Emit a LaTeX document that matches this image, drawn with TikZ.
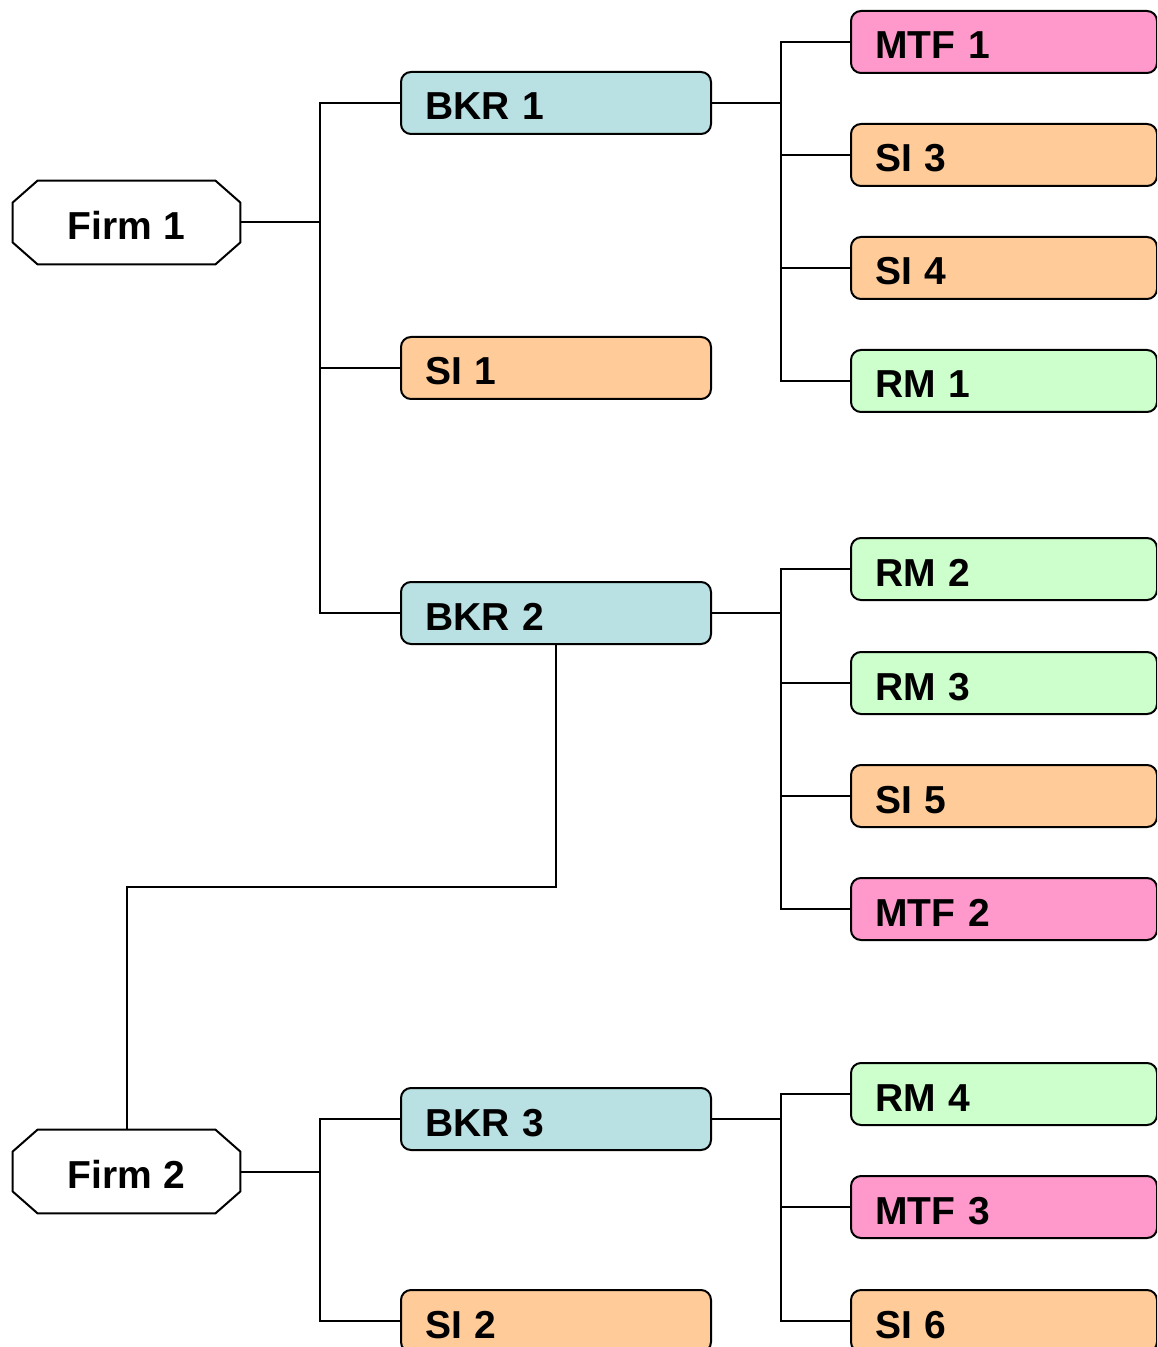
\documentclass[tikz,border=0pt]{standalone}
\usepackage{fontspec}
\setmainfont{Liberation Sans}
\usetikzlibrary{calc}
\definecolor{bkrfill}{HTML}{B9E0E3}
\definecolor{sifill}{HTML}{FFCC99}
\definecolor{mtffill}{HTML}{FF99CC}
\definecolor{rmfill}{HTML}{CCFFCC}
\tikzset{
  lbl/.style={font=\fontsize{19.5pt}{22pt}\selectfont\bfseries, text height=17pt, text depth=0pt},
  firmbox/.style={lbl, rectangle, minimum width=113.5pt, minimum height=41.5pt,
    inner sep=0pt, align=center},
  octline/.style={line width=1pt},
  midbox/.style={lbl, draw, line width=1pt, rounded corners=5pt, rectangle,
    text width=131pt, inner xsep=12pt, inner ysep=0pt, minimum height=31pt, align=left},
  rightbox/.style={midbox, text width=129pt},
  bkr/.style={midbox, fill=bkrfill},
  si/.style={midbox, fill=sifill},
  rsi/.style={rightbox, fill=sifill},
  mtf/.style={rightbox, fill=mtffill},
  rm/.style={rightbox, fill=rmfill},
  link/.style={line width=1pt}
}
% octagonal outline around a named node (corner cuts 25 x 22 units)
\newcommand\octoutline[1]{%
  \draw[octline] ($(#1.north west)+(25,0)$) -- ($(#1.north east)+(-25,0)$)
    -- ($(#1.north east)+(0,22)$) -- ($(#1.south east)+(0,-22)$)
    -- ($(#1.south east)+(-25,0)$) -- ($(#1.south west)+(25,0)$)
    -- ($(#1.south west)+(0,-22)$) -- ($(#1.north west)+(0,22)$) -- cycle;}
\begin{document}
\begin{tikzpicture}[x=0.5pt,y=-0.5pt]
\path[use as bounding box, clip] (0,0) rectangle (1157,1347);

% firms
\node[firmbox] (f1) at (126.5,222.5) {Firm 1};
\node[firmbox] (f2) at (126.5,1171.5) {Firm 2};
\octoutline{f1}
\octoutline{f2}

% brokers and systematic internalisers in the middle column
\node[bkr] (b1) at (556,103) {BKR 1};
\node[si]  (s1) at (556,368) {SI 1};
\node[bkr] (b2) at (556,613) {BKR 2};
\node[bkr] (b3) at (556,1119) {BKR 3};
\node[si]  (s2) at (556,1321) {SI 2};

% venues in the right column
\node[mtf] (m1) at (1004,42)  {MTF 1};
\node[rsi] (s3) at (1004,155) {SI 3};
\node[rsi] (s4) at (1004,268) {SI 4};
\node[rm]  (r1) at (1004,381) {RM 1};
\node[rm]  (r2) at (1004,569) {RM 2};
\node[rm]  (r3) at (1004,683) {RM 3};
\node[rsi] (s5) at (1004,796) {SI 5};
\node[mtf] (m2) at (1004,909) {MTF 2};
\node[rm]  (r4) at (1004,1094) {RM 4};
\node[mtf] (m3) at (1004,1207) {MTF 3};
\node[rsi] (s6) at (1004,1321) {SI 6};

% junction points
\coordinate (j1) at (320,222.5);
\coordinate (j2) at (320,1171.5);
\coordinate (k1) at (781,103);
\coordinate (k2) at (781,613);
\coordinate (k3) at (781,1119);
\coordinate (bend) at (556,887);

% firm 1 tree
\draw[link] (f1.east) -- (j1);
\draw[link] (j1) |- (b1.west);
\draw[link] (j1) |- (s1.west);
\draw[link] (j1) |- (b2.west);

% firm 2 tree
\draw[link] (f2.east) -- (j2);
\draw[link] (j2) |- (b3.west);
\draw[link] (j2) |- (s2.west);

% broker 2 routes to firm 2
\draw[link] (b2.south) -- (bend) -| (f2.north);

% broker 1 venues
\draw[link] (b1.east) -- (k1);
\draw[link] (k1) |- (m1.west);
\draw[link] (k1) |- (s3.west);
\draw[link] (k1) |- (s4.west);
\draw[link] (k1) |- (r1.west);

% broker 2 venues
\draw[link] (b2.east) -- (k2);
\draw[link] (k2) |- (r2.west);
\draw[link] (k2) |- (r3.west);
\draw[link] (k2) |- (s5.west);
\draw[link] (k2) |- (m2.west);

% broker 3 venues
\draw[link] (b3.east) -- (k3);
\draw[link] (k3) |- (r4.west);
\draw[link] (k3) |- (m3.west);
\draw[link] (k3) |- (s6.west);
\end{tikzpicture}
\end{document}
